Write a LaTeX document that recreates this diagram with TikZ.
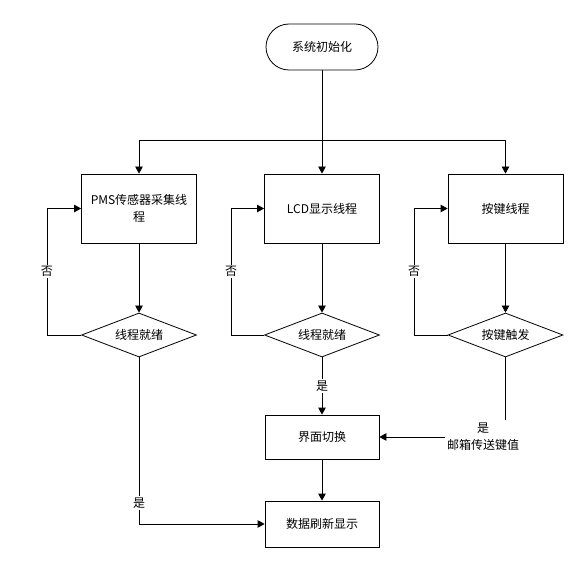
\documentclass[tikz,border=0pt]{standalone}
\usepackage{fontspec}
\setmainfont{Noto Sans CJK SC}
\usetikzlibrary{arrows.meta,shapes.geometric}
\begin{document}
\begin{tikzpicture}[x=1pt,y=-1pt,
  font=\fontsize{12}{17}\selectfont,
  line width=0.8pt,
  >={Triangle[length=7pt,width=7.5pt]},
  procbox/.style={draw, rectangle, minimum width=115pt, minimum height=69pt, inner sep=2pt, align=center},
  smallbox/.style={draw, rectangle, minimum width=114pt, minimum height=44pt, inner sep=2pt, align=center},
  decide/.style={draw, diamond, shape aspect=2.6, minimum width=115pt, minimum height=44pt, inner sep=0pt},
  term/.style={draw, rectangle, rounded corners=23pt, minimum width=112pt, minimum height=46pt},
  lbl/.style={fill=white, inner sep=1.5pt}]
\useasboundingbox (0,0) rectangle (579,572);

\node[term] (start) at (322,47) {系统初始化};
\node[procbox] (b1) at (139,208.5) {PMS传感器采集线\\程};
\node[procbox] (b2) at (322,208.5) {LCD显示线程};
\node[procbox] (b3) at (505.5,208.5) {按键线程};
\node[decide] (d1) at (139,335) {线程就绪};
\node[decide] (d2) at (322,335) {线程就绪};
\node[decide] (d3) at (505.5,335) {按键触发};
\node[smallbox] (sw) at (322,437) {界面切换};
\node[smallbox, minimum height=46pt] (disp) at (322,524) {数据刷新显示};
\node[align=center, inner sep=2pt, fill=white] (yes3) at (483,437) {是\\邮箱传送键值};

\coordinate (split) at (322,140);
\draw (start.south) -- (split);
\draw[->] (split) -| (b1.north);
\draw[->] (split) -| (b3.north);
\draw[->] (split) -- (b2.north);

\draw[->] (b1.south) -- (d1.north);
\draw[->] (b2.south) -- (d2.north);
\draw[->] (b3.south) -- (d3.north);

\coordinate (f1a) at (47,335);
\coordinate (f1b) at (47,208.5);
\draw[->] (d1.west) -- (f1a) -- node[lbl, pos=0.5]{否} (f1b) -- (b1.west);
\coordinate (f2a) at (231,335);
\coordinate (f2b) at (231,208.5);
\draw[->] (d2.west) -- (f2a) -- node[lbl, pos=0.5]{否} (f2b) -- (b2.west);
\coordinate (f3a) at (414,335);
\coordinate (f3b) at (414,208.5);
\draw[->] (d3.west) -- (f3a) -- node[lbl, pos=0.5]{否} (f3b) -- (b3.west);

\draw[->] (d2.south) -- node[lbl, pos=0.5]{是} (sw.north);

\coordinate (d3end) at (505.5,420);
\draw (d3.south) -- (d3end);
\draw[->] (yes3.west) -- (sw.east);

\draw[->] (sw.south) -- (disp.north);

\coordinate (c1) at (139,524);
\draw (d1.south) -- node[lbl, pos=0.874]{是} (c1);
\draw[->] (c1) -- (disp.west);
\end{tikzpicture}
\end{document}
